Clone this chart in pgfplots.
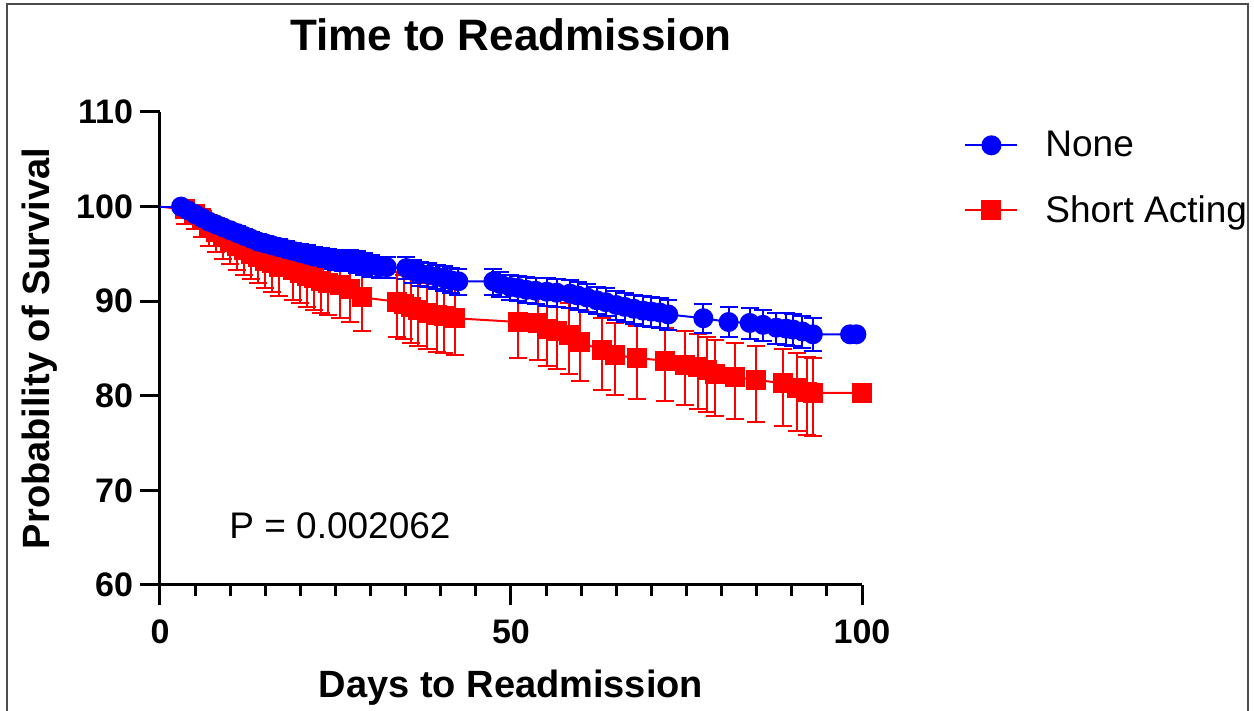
\documentclass[border=0pt]{standalone}
\usepackage{fontspec}
\setmainfont{Liberation Sans}
\usepackage{pgfplots}
\usepackage{pgfplotstable}
\pgfplotsset{compat=1.18}

% x y err+ err-
\pgfplotstableread{
x y ep em
3 100.0 0.0 0.0
4 99.6 0.2 0.3
5 99.2 0.3 0.4
6 98.8 0.4 0.5
7 98.4 0.5 0.5
8 98.1 0.5 0.6
9 97.8 0.6 0.6
10 97.5 0.6 0.7
11 97.2 0.7 0.7
12 96.9 0.7 0.8
13 96.6 0.7 0.8
14 96.3 0.8 0.8
15 96.1 0.8 0.9
16 95.9 0.8 0.9
17 95.7 0.9 0.9
18 95.5 0.9 1.0
19 95.3 0.9 1.0
20 95.1 0.9 1.0
21 94.9 1.0 1.0
22 94.7 1.0 1.1
23 94.6 1.0 1.1
24 94.5 1.0 1.1
25 94.4 1.0 1.1
26 94.3 1.0 1.1
27 94.3 1.1 1.1
28 94.2 1.1 1.2
29 94.0 1.1 1.2
30 93.8 1.1 1.2
31.3 93.6 1.1 1.2
32.3 93.6 1.1 1.2
35.1 93.5 1.2 1.2
36 93.2 1.2 1.3
37 92.95 1.2 1.3
38.2 92.8 1.2 1.3
39.4 92.6 1.2 1.3
40.5 92.4 1.3 1.3
41.5 92.2 1.3 1.3
42.5 92.1 1.3 1.4
47.5 92.1 1.3 1.4
48.5 91.8 1.3 1.4
49.9 91.5 1.3 1.4
51 91.4 1.3 1.4
52.2 91.2 1.4 1.4
53.5 91.1 1.4 1.4
55.1 91.0 1.4 1.5
56.5 90.9 1.4 1.5
58.4 90.8 1.4 1.5
59.5 90.6 1.4 1.5
60.8 90.4 1.4 1.5
62.2 90.1 1.4 1.5
63.5 89.9 1.5 1.5
65 89.6 1.5 1.6
66.2 89.4 1.5 1.6
67.5 89.2 1.5 1.6
68.8 89.0 1.5 1.6
70 88.9 1.5 1.6
71.2 88.8 1.5 1.6
72.4 88.6 1.5 1.6
77.4 88.2 1.5 1.6
81 87.8 1.6 1.6
84 87.7 1.6 1.7
85.9 87.5 1.6 1.7
87.8 87.2 1.6 1.7
89.2 87.1 1.6 1.7
90.2 87.0 1.6 1.7
91.5 86.8 1.6 1.7
93 86.5 1.7 1.8
98.3 86.5 0 0
99.2 86.5 0 0
}\nonedata

\pgfplotstableread{
x y ep em
3.5 99.7 0.3 1.5
5 99.2 0.8 1.6
6 98.6 1.1 1.8
7 97.8 1.3 2.0
8 97.3 1.5 2.1
9 96.8 1.6 2.3
10 96.3 1.7 2.4
11 95.8 1.8 2.5
12 95.4 1.9 2.6
13 95.0 2.0 2.7
14 94.7 2.1 2.8
15 94.3 2.2 2.9
16 94.0 2.3 3.0
17 93.6 2.4 3.1
19 93.3 2.5 3.2
20 93.0 2.6 3.2
21 92.7 2.6 3.3
22 92.4 2.7 3.3
23 92.1 2.7 3.4
24 91.9 2.8 3.4
25.6 91.7 2.8 3.5
27 91.3 2.9 3.5
28.8 90.4 3.0 3.6
33.7 89.95 3.1 3.7
34.7 89.7 3.1 3.7
35.8 89.4 3.2 3.8
36.8 89.1 3.2 3.8
38 88.7 3.2 3.8
39.4 88.5 3.3 3.9
40.4 88.4 3.3 3.9
42 88.2 3.3 3.9
51 87.8 3.3 3.8
53.9 87.7 3.3 3.9
55.1 87.1 3.4 4.0
56.5 86.8 3.4 4.0
58.2 86.4 3.4 4.1
59.8 85.7 3.4 4.1
62.9 84.8 3.4 4.2
64.8 84.3 3.4 4.2
67.9 84.0 3.4 4.3
72 83.7 3.5 4.3
74.8 83.3 3.5 4.3
76.7 83.0 3.5 4.4
77.9 82.7 3.5 4.4
79.1 82.3 3.6 4.4
81.9 81.95 3.6 4.4
84.9 81.7 3.6 4.5
88.8 81.3 3.6 4.5
90.7 80.8 3.7 4.5
92.1 80.4 3.7 4.5
93 80.3 3.7 4.5
100 80.3 0 0
}\shortdata

\begin{document}
\begin{tikzpicture}
\path[use as bounding box] (-80pt,-63pt) rectangle (547pt,292.5pt);
% screenshot frame
\draw[line width=0.75pt, black!70] (-76.5pt,-63pt) -- (-76.5pt,290.5pt) -- (544pt,290.5pt) -- (544pt,-63pt);
\begin{axis}[
    at={(0pt,0pt)}, anchor=south west,
    scale only axis,
    width=351pt, height=236.5pt,
    xmin=0, xmax=100, ymin=60, ymax=110,
    xtick={0,50,100},
    minor xtick={5,10,...,95},
    ytick={60,70,...,110},
    axis lines*=left,
    axis line style={line width=1.5pt, -},
    tick style={line width=1.5pt, black},
    tick align=outside,
    major tick length=10pt,
    minor tick length=5.5pt,
    clip=false,
    /pgf/number format/assume math mode=true,
    ticklabel style={font=\fontsize{17pt}{20pt}\selectfont\bfseries},
    xticklabel style={yshift=-4pt},
    title={Time to Readmission},
    title style={at={(axis description cs:0.5,1.1057)}, anchor=base,
        font=\fontsize{22pt}{26pt}\selectfont\bfseries},
    xlabel={Days to Readmission},
    xlabel style={at={(axis description cs:0.5,-0.2368)}, anchor=base,
        font=\fontsize{19pt}{23pt}\selectfont\bfseries},
    ylabel={Probability of Survival},
    ylabel style={at={(axis description cs:-0.1567,0.5)}, anchor=base,
        font=\fontsize{19pt}{23pt}\selectfont\bfseries},
    legend style={draw=none, fill=none, at={(axis description cs:1.1368,0.8600)},
        anchor=west, font=\fontsize{18.5pt}{22pt}\selectfont,
        nodes={inner sep=0pt}, row sep=18pt,
        /tikz/every odd column/.append style={column sep=13.5pt}},
    legend cell align=left,
    legend image code/.code={\draw[mark repeat=2,mark phase=2,#1] plot coordinates {(0pt,0pt) (13pt,0pt) (26pt,0pt)};},
    reverse legend,
]
% Short Acting
\addplot[red, line width=1pt, forget plot] coordinates {(0,100) (3.5,99.7)};
\addplot[red, line width=1pt, mark=square*, mark size=4.5pt,
    mark options={solid, fill=red},
    error bars/.cd, y dir=both, y explicit,
    error mark=|,
    error bar style={line width=1pt, red},
    error mark options={line width=1pt, mark size=4.5pt, red}]
    table[x=x, y=y, y error plus=ep, y error minus=em] {\shortdata};
\addlegendentry{Short Acting}
% None
\addplot[blue, line width=1pt, forget plot] coordinates {(0,100) (3,100)};
\addplot[blue, line width=1pt, mark=*, mark size=4.5pt,
    mark options={solid, fill=blue},
    error bars/.cd, y dir=both, y explicit,
    error mark=|,
    error bar style={line width=1pt, blue},
    error mark options={line width=1pt, mark size=4.5pt, blue}]
    table[x=x, y=y, y error plus=ep, y error minus=em] {\nonedata};
\addlegendentry{None}
\node[anchor=base, font=\fontsize{18.5pt}{22pt}\selectfont]
    at (axis description cs:0.2564,0.0973) {P = 0.002062};
\end{axis}
\end{tikzpicture}
\end{document}
